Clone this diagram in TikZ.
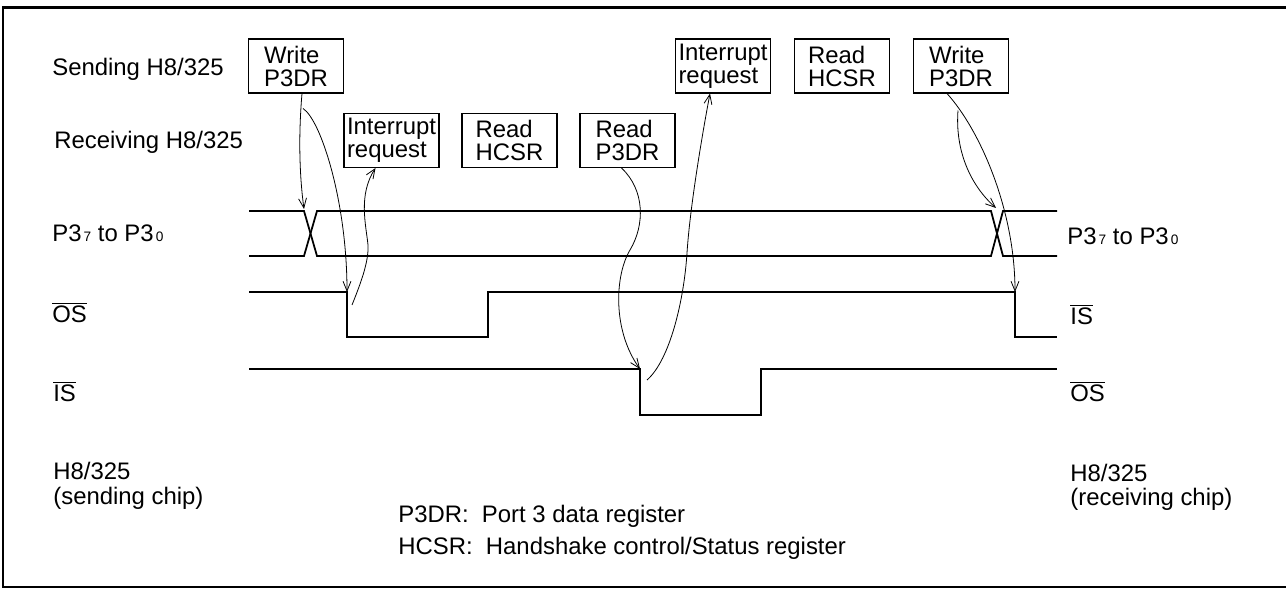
\documentclass[tikz,border=0pt]{standalone}
\usepackage{fontspec}
\setmainfont{Liberation Sans}
\usetikzlibrary{arrows.meta}

\newcommand\pinsub[1]{\kern1.2pt{\fontsize{7.8}{8}\selectfont #1}}

\tikzset{
  opbox/.style={draw, line width=0.6pt, minimum width=1.9cm, minimum height=1.08cm, inner sep=0pt, align=left},
  lbl/.style={anchor=base west, inner sep=0pt},
  sig/.style={line width=1pt},
  cause/.style={line width=0.45pt, -{Straight Barb[length=5.5pt,width=4.5pt]}},
}

\begin{document}
\begin{tikzpicture}[x=0.02cm, y=-0.02cm, font=\fontsize{13.6}{13.1}\selectfont]
\useasboundingbox (0,0) rectangle (1286,590);
% frame
\draw[line width=1.6pt] (1290,7.5) -- (3,7.5) -- (3,587) -- (1290,587);

% row labels
\node[lbl] (sendLbl) at (52,76) {Sending H8/325};
\node[lbl] (recvLbl) at (54,149) {Receiving H8/325};
\node[lbl] (busL) at (52,242) {P3\pinsub{7} to P3\pinsub{0}};
\node[lbl] (busR) at (1067,245) {P3\pinsub{7} to P3\pinsub{0}};
\node[lbl] (osL) at (52,323) {$\overline{\mbox{OS}}$};
\node[lbl] (isR) at (1070,325) {$\overline{\mbox{IS}}$};
\node[lbl] (isL) at (53,402) {$\overline{\mbox{IS}}$};
\node[lbl] (osR) at (1070,402) {$\overline{\mbox{OS}}$};
\node[lbl] (chipS) at (53,480) {H8/325};
\node[lbl] (chipS2) at (53,505) {(sending chip)};
\node[lbl] (chipR) at (1070,482) {H8/325};
\node[lbl] (chipR2) at (1070,506) {(receiving chip)};
\node[lbl] (legA) at (398,523) {P3DR:~~Port 3 data register};
\node[lbl] (legB) at (398,555) {HCSR:~~Handshake control/Status register};

% operations
\node[opbox] (wpA) at (296,66) {Write\\P3DR};
\node[opbox] (irA) at (391.5,140.5) {Interrupt\\request};
\node[opbox] (rhA) at (509.5,140.5) {Read\\HCSR};
\node[opbox] (rpA) at (627.5,140.5) {Read\\P3DR};
\node[opbox] (irB) at (723,66) {Interrupt\\request};
\node[opbox] (rhB) at (842,66) {Read\\HCSR};
\node[opbox] (wpB) at (961,66) {Write\\P3DR};

% waveforms
\draw[sig] (249,211) -- (304,211) -- (317,256) -- (991,256) -- (1003,211) -- (1057,211);
\draw[sig] (249,256) -- (304,256) -- (317,211) -- (991,211) -- (1003,256) -- (1057,256);
\draw[sig] (249,292) -- (347,292) -- (347,337) -- (488,337) -- (488,292) -- (1015,292) -- (1015,337) -- (1057,337);
\draw[sig] (249,369) -- (640,369) -- (640,415) -- (761,415) -- (761,369) -- (1057,369);

\coordinate (p3xA) at (304,209);
\coordinate (osA) at (347,292);
\coordinate (irqA) at (352,305);
\coordinate (isA) at (640,369);
\coordinate (irqB) at (647,380);
\coordinate (p3xB) at (996,208);
\coordinate (osB) at (1015,292);

% cause arrows
\draw[cause] ([shift={(6,0)}]wpA.south) .. controls (298,140) and (300,180) .. (p3xA);
\draw[cause] ([shift={(7,15)}]wpA.south) .. controls (321,120) and (347,202) .. (osA);
\draw[cause] (irqA) .. controls (360,285) and (369,262) .. (368,245) .. controls (366,225) and (358,195) .. ([shift={(-16,0)}]irA.south);
\draw[cause] ([shift={(-6,0)}]rpA.south) .. controls (645,190) and (645,225) .. (630,250) .. controls (615,275) and (612,330) .. (isA);
\draw[cause] (irqB) .. controls (670,360) and (684,300) .. (687,253) .. controls (690,206) and (703,130) .. ([shift={(-13,0)}]irB.south);
\draw[cause] ([shift={(-3,17)}]wpB.south) .. controls (955,150) and (970,185) .. (p3xB);
\draw[cause] ([shift={(-14,0)}]wpB.south) .. controls (980,130) and (1015,210) .. (osB);
\end{tikzpicture}
\end{document}
